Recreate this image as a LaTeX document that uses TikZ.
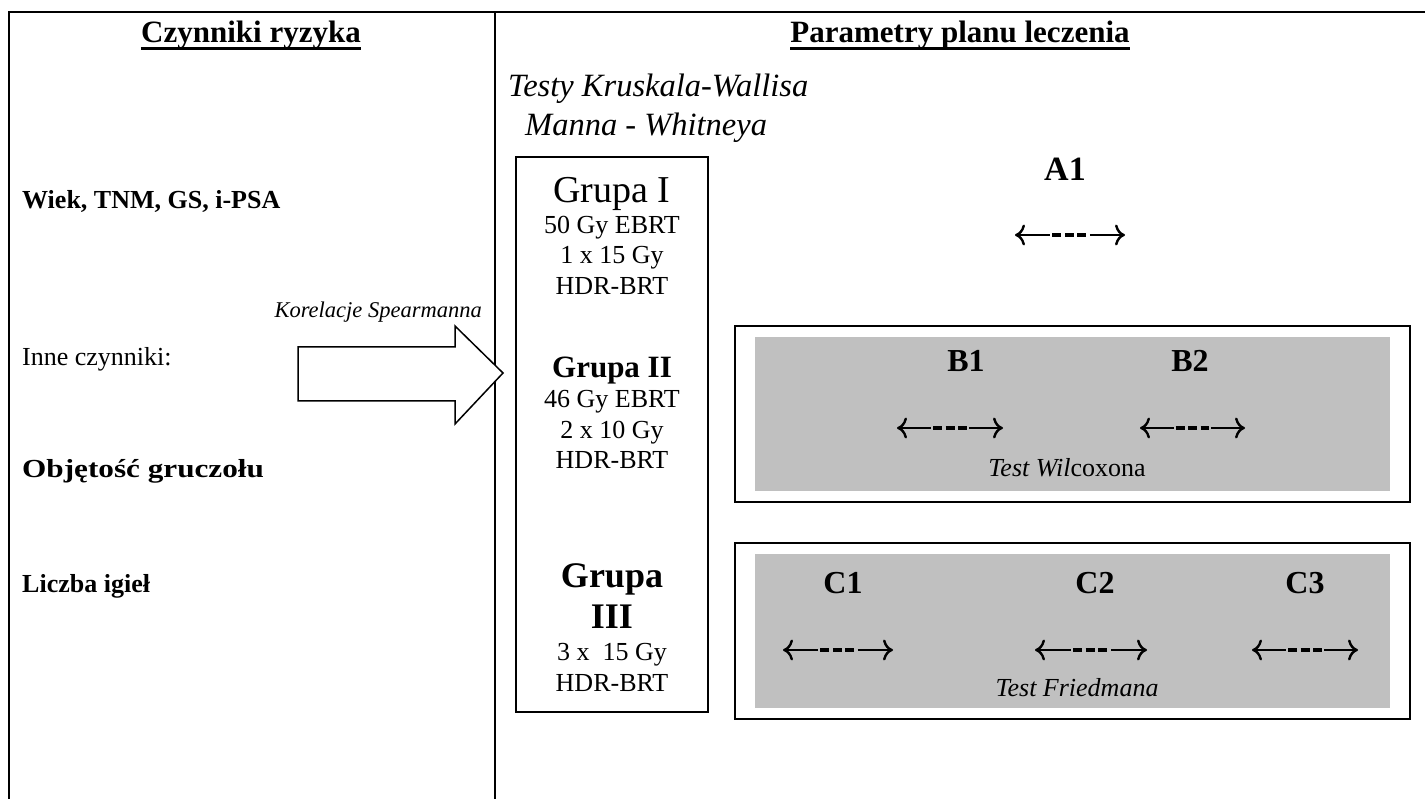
\documentclass[tikz,border=0pt]{standalone}
\usepackage{fontspec}
\usepackage{graphicx}
\setmainfont{Liberation Serif}
\usetikzlibrary{arrows.meta,calc}
\definecolor{boxgrey}{HTML}{C0C0C0}
\newcommand\fs[1]{\fontsize{#1}{#1}\selectfont}
\newcommand\dblarr[2]{%
  \draw[solidpart,{Computer Modern Rightarrow[length=10pt,width=21pt]}-] (#1) -- ($(#1)!0.32!(#2)$);
  \draw[dashpart] ($(#1)!0.34!(#2)$) -- ($(#1)!0.66!(#2)$);
  \draw[solidpart,-{Computer Modern Rightarrow[length=10pt,width=21pt]}] ($(#1)!0.68!(#2)$) -- (#2);
}
\begin{document}
\begin{tikzpicture}[x=1pt,y=-1pt,
  lbl/.style={inner sep=0pt,anchor=base west},
  ctr/.style={inner sep=0pt,anchor=base},
  rgt/.style={inner sep=0pt,anchor=base east},
  rule/.style={line width=2pt},
  frame/.style={draw,line width=2pt},
  greyfill/.style={fill=boxgrey},
  solidpart/.style={line width=2.4pt},
  dashpart/.style={line width=3.8pt,dash pattern=on 9pt off 3.5pt},
  blockarrow/.style={draw,fill=white,line width=1.5pt,line join=miter}]
\useasboundingbox (0,0) rectangle (1425,799);
% table lines
\coordinate (tl) at (9,12);
\coordinate (tr) at (1425,12);
\coordinate (bl) at (9,799);
\coordinate (dt) at (495,12);
\coordinate (db) at (495,799);
\draw[rule] (tr) -- (tl) -- (bl);
\draw[rule] (dt) -- (db);
% headers
\node[ctr] (h1) at (251,43) {\fs{31}\bfseries Czynniki ryzyka};
\draw[line width=3pt] ([yshift=-6pt]h1.base west) -- ([yshift=-6pt]h1.base east);
\node[ctr] (h2) at (960,43) {\fs{31}\bfseries Parametry planu leczenia};
\draw[line width=3pt] ([yshift=-6pt]h2.base west) -- ([yshift=-6pt]h2.base east);
% left column
\node[lbl] (wiek) at (22,209) {\fs{26}\bfseries Wiek, TNM, GS, i-PSA};
\node[rgt] (kor) at (482,318) {\fs{22.5}\itshape Korelacje Spearmanna};
\node[lbl] (inne) at (22,366) {\fs{26}Inne czynniki:};
\node[lbl] (obj) at (22,478) {\scalebox{1.2}[1]{\fs{26}\bfseries Objętość gruczołu}};
\node[lbl] (igly) at (22,592) {\fs{26}\bfseries Liczba igieł};
% block arrow
\draw[blockarrow] (298,347) -- (455,347) -- (455,326) -- (503,373) -- (455,424) -- (455,401) -- (298,401) -- cycle;
% tests KW / MW
\node[lbl] (kw) at (508,97) {\fs{32.5}\itshape Testy Kruskala-Wallisa};
\node[lbl] (mw) at (525,136) {\fs{32.5}\itshape Manna - Whitneya};
% group box
\draw[frame] (516,157) rectangle (708,712);
\node[ctr] (g1) at (612,203) {\fs{38}Grupa I};
\node[ctr] (g1a) at (612,234) {\fs{26}50 Gy EBRT};
\node[ctr] (g1b) at (612,264) {\fs{26}1 x 15 Gy};
\node[ctr] (g1c) at (612,295) {\fs{26}HDR-BRT};
\node[ctr] (g2) at (612,378) {\fs{31}\bfseries Grupa II};
\node[ctr] (g2a) at (612,408) {\fs{26}46 Gy EBRT};
\node[ctr] (g2b) at (612,439) {\fs{26}2 x 10 Gy};
\node[ctr] (g2c) at (612,469) {\fs{26}HDR-BRT};
\node[ctr] (g3) at (612,587) {\fs{36}\bfseries Grupa};
\node[ctr] (g3r) at (612,628) {\fs{36}\bfseries III};
\node[ctr] (g3a) at (612,660) {\fs{26}3 x\ \ 15 Gy};
\node[ctr] (g3b) at (612,691) {\fs{26}HDR-BRT};
% A1
\node[ctr] (a1) at (1065,181) {\fs{34}\bfseries A1};
\coordinate (a1l) at (1015,235);
\coordinate (a1r) at (1125,235);
\dblarr{a1l}{a1r}
% B box
\draw[frame] (735,326) rectangle (1410,502);
\fill[greyfill] (755,337) rectangle (1390,491);
\node[ctr] (b1) at (966,372) {\fs{32}\bfseries B1};
\node[ctr] (b2) at (1190,372) {\fs{32}\bfseries B2};
\coordinate (b1l) at (897,428);
\coordinate (b1r) at (1003,428);
\coordinate (b2l) at (1140,428);
\coordinate (b2r) at (1245,428);
\dblarr{b1l}{b1r}
\dblarr{b2l}{b2r}
\node[ctr] (tw) at (1067,477) {\fs{26}\textit{Test Wil}coxona};
% C box
\draw[frame] (735,543) rectangle (1410,719);
\fill[greyfill] (755,554) rectangle (1390,708);
\node[ctr] (c1) at (843,593) {\fs{32}\bfseries C1};
\node[ctr] (c2) at (1095,593) {\fs{32}\bfseries C2};
\node[ctr] (c3) at (1305,593) {\fs{32}\bfseries C3};
\coordinate (c1l) at (783,650);
\coordinate (c1r) at (893,650);
\coordinate (c2l) at (1035,650);
\coordinate (c2r) at (1147,650);
\coordinate (c3l) at (1252,650);
\coordinate (c3r) at (1358,650);
\dblarr{c1l}{c1r}
\dblarr{c2l}{c2r}
\dblarr{c3l}{c3r}
\node[ctr] (tf) at (1077,696) {\fs{26}\itshape Test Friedmana};
\end{tikzpicture}
\end{document}
